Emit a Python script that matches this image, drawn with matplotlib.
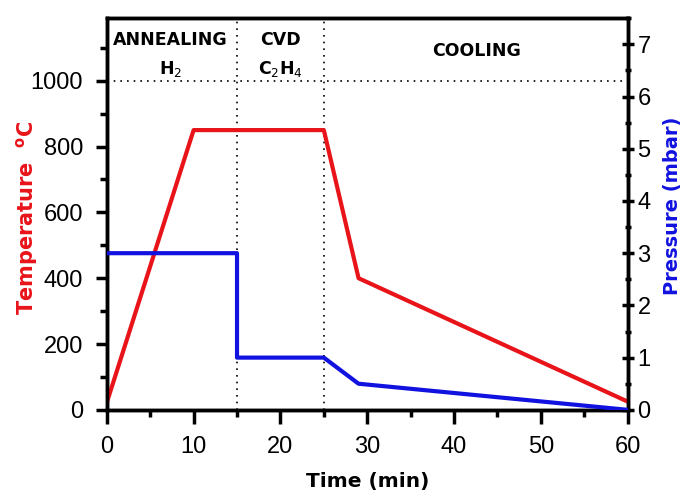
import numpy as np
import matplotlib
matplotlib.use("Agg")
import matplotlib.pyplot as plt
from matplotlib.ticker import MultipleLocator

plt.rcParams['font.family'] = 'Liberation Sans'
plt.rcParams['mathtext.fontset'] = 'custom'
plt.rcParams['mathtext.bf'] = 'DejaVu Sans:bold'
plt.rcParams['mathtext.rm'] = 'DejaVu Sans'

# data
temp_time = [0, 10, 25, 29, 60]
temp_vals = [22, 850, 850, 400, 25]

pres_time = [0, 15, 15, 25, 29, 60]
pres_vals = [3.0, 3.0, 1.0, 1.0, 0.5, 0.0]

stage_bounds = [15, 25]
stage_labels = ["ANNEALING", "CVD", "COOLING"]
stage_gas = ["H$_2$", "C$_2$H$_4$", ""]
stage_x = [7.3, 20, 42.6]
stage_y = [1125, 1125, 1090]

red = '#e8141a'
blue = '#1212e0'
bold_font = 'DejaVu Sans'

fig = plt.figure(figsize=(6.89, 4.92), dpi=100)
ax = fig.add_axes([0.155, 0.167, 0.756, 0.796])
ax2 = ax.twinx()

# guides
for b in stage_bounds:
    ax.axvline(b, color='k', ls=(0, (1, 3)), lw=1.2, zorder=1)
ax.axhline(1000, color='k', ls=(0, (1, 3)), lw=1.2, zorder=1)

ax.plot(temp_time, temp_vals, color=red, lw=3, zorder=3)
ax2.plot(pres_time, pres_vals, color=blue, lw=3, zorder=3)

ax.set_xlim(0, 60)
ax.set_ylim(0, 1190)
ax2.set_ylim(0, 7.5)

ax.xaxis.set_major_locator(MultipleLocator(10))
ax.xaxis.set_minor_locator(MultipleLocator(5))
ax.yaxis.set_major_locator(MultipleLocator(200))
ax.yaxis.set_minor_locator(MultipleLocator(100))
ax2.yaxis.set_major_locator(MultipleLocator(1))
ax2.yaxis.set_minor_locator(MultipleLocator(0.5))

for a in (ax, ax2):
    for s in a.spines.values():
        s.set_linewidth(2.5)
ax.tick_params(which='major', length=8, width=2.5, labelsize=17, direction='out')
ax.tick_params(which='minor', length=5, width=2.5, direction='out')
ax.tick_params(axis='x', which='major', length=10, pad=9)
ax.tick_params(axis='y', pad=9)
ax2.tick_params(which='major', length=8, width=2.5, labelsize=17, direction='inout', pad=3)
ax2.tick_params(which='minor', length=5, width=2.5, direction='inout')

ax.set_xlabel("Time (min)", fontsize=14.5, fontweight='bold', family=bold_font)
ax.xaxis.set_label_coords(0.5, -0.158)
ax.set_ylabel("Temperature  $^{\\mathbf{o}}\\mathbf{C}$", fontsize=15,
              fontweight='bold', color=red, family=bold_font)
ax.yaxis.set_label_coords(-0.128, 0.49)
ax2.set_ylabel("Pressure (mbar)", fontsize=14, fontweight='bold', color=blue,
               family=bold_font)
ax2.yaxis.set_label_coords(1.068, 0.52)

for x, y, lab, gas in zip(stage_x, stage_y, stage_labels, stage_gas):
    ax.text(x, y, lab, ha='center', va='center', fontsize=12.5,
            fontweight='bold', family=bold_font)
    if gas:
        ax.text(x, 1035, gas, ha='center', va='center', fontsize=12.5,
                fontweight='bold', family=bold_font)

fig.savefig("out.png", dpi=100)
